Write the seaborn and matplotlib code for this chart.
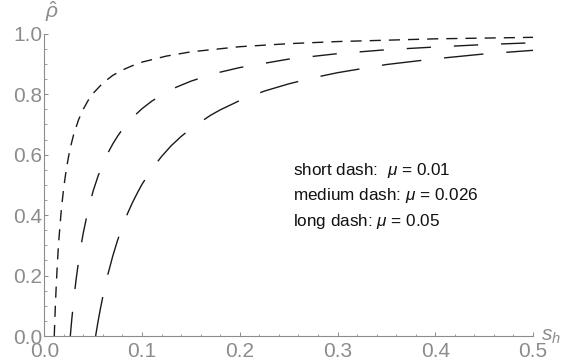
import numpy as np
import pandas as pd
import matplotlib
matplotlib.use("Agg")
import matplotlib.pyplot as plt
import seaborn as sns
from matplotlib.ticker import MultipleLocator, FormatStrFormatter

# ---- data ----
s_short = [0.0102, 0.0105, 0.011, 0.0115, 0.012, 0.013, 0.014, 0.015, 0.0175, 0.02, 0.0225,
           0.025, 0.0275, 0.03, 0.035, 0.04, 0.045, 0.05, 0.06, 0.07, 0.08, 0.09, 0.1,
           0.125, 0.15, 0.2, 0.25, 0.3, 0.4, 0.5]
rho_short = [0.0, 0.029, 0.073, 0.114, 0.151, 0.217, 0.274, 0.323, 0.421, 0.494, 0.551,
             0.597, 0.634, 0.666, 0.715, 0.751, 0.780, 0.803, 0.837, 0.862, 0.880, 0.894, 0.906,
             0.926, 0.940, 0.957, 0.967, 0.974, 0.983, 0.988]

s_medium = [0.0266, 0.028, 0.03, 0.0325, 0.035, 0.0375, 0.04, 0.045, 0.05, 0.055, 0.06,
            0.065, 0.07, 0.075, 0.08, 0.09, 0.1, 0.11, 0.12, 0.135, 0.15, 0.175, 0.2,
            0.25, 0.3, 0.35, 0.4, 0.45, 0.5]
rho_medium = [0.0, 0.051, 0.116, 0.186, 0.246, 0.298, 0.343, 0.419, 0.480, 0.529, 0.570,
              0.605, 0.635, 0.661, 0.684, 0.722, 0.752, 0.777, 0.797, 0.823, 0.843, 0.869, 0.888,
              0.916, 0.934, 0.947, 0.956, 0.964, 0.970]

s_long = [0.0525, 0.055, 0.0575, 0.06, 0.0625, 0.065, 0.07, 0.075, 0.08, 0.085, 0.09,
          0.095, 0.1, 0.11, 0.12, 0.13, 0.14, 0.15, 0.17, 0.18, 0.2, 0.225, 0.25, 0.275,
          0.3, 0.35, 0.4, 0.45, 0.5]
rho_long = [0.0, 0.048, 0.092, 0.132, 0.169, 0.203, 0.264, 0.317, 0.363, 0.404, 0.440,
            0.472, 0.502, 0.552, 0.594, 0.630, 0.660, 0.686, 0.730, 0.748, 0.779, 0.810, 0.834, 0.854,
            0.871, 0.898, 0.917, 0.933, 0.945]

curve_names = ["short", "medium", "long"]
annotations = ["short dash:$\\enspace\\,\\mu$ = 0.01", "medium dash: $\\mu$ = 0.026", "long dash: $\\mu$ = 0.05"]
x_ticks = [0.0, 0.1, 0.2, 0.3, 0.4, 0.5]
y_ticks = [0.0, 0.2, 0.4, 0.6, 0.8, 1.0]

df = pd.concat([
    pd.DataFrame({"s": s_short, "rho": rho_short, "curve": "short"}),
    pd.DataFrame({"s": s_medium, "rho": rho_medium, "curve": "medium"}),
    pd.DataFrame({"s": s_long, "rho": rho_long, "curve": "long"}),
], ignore_index=True)

plt.rcParams["font.family"] = ["Liberation Sans", "DejaVu Sans"]
plt.rcParams["mathtext.fontset"] = "custom"
plt.rcParams["mathtext.it"] = "Liberation Sans:italic"
plt.rcParams["mathtext.rm"] = "Liberation Sans"

W, H = 563, 362
fig = plt.figure(figsize=(W / 100, H / 100), dpi=100)
x0, x1 = 44.3, 533.0
y0, y1 = 336.0, 33.7
ax = fig.add_axes([x0 / W, (H - y0) / H, (x1 - x0) / W, (y0 - y1) / H])

gray = "#8c8c8c"
dashes = {"short": (8.0, 5.8), "medium": (17.5, 16.5), "long": (28.5, 16.5)}
sns.lineplot(data=df, x="s", y="rho", style="curve", style_order=curve_names,
             dashes=dashes, color="#1a1a1a", linewidth=1.0, legend=False,
             estimator=None, sort=False, ax=ax)

ax.set_xlim(0, 0.5)
ax.set_ylim(0, 1.0)
ax.set_xlabel("")
ax.set_ylabel("")
for side in ["top", "right"]:
    ax.spines[side].set_visible(False)
for side in ["left", "bottom"]:
    ax.spines[side].set_color(gray)
    ax.spines[side].set_linewidth(0.8)

ax.set_xticks(x_ticks)
ax.set_yticks(y_ticks)
ax.xaxis.set_major_formatter(FormatStrFormatter("%.1f"))
ax.yaxis.set_major_formatter(FormatStrFormatter("%.1f"))
ax.xaxis.set_minor_locator(MultipleLocator(0.02))
ax.yaxis.set_minor_locator(MultipleLocator(0.05))
ax.tick_params(which="major", direction="in", length=3.2, width=0.7, color=gray,
               labelcolor=gray, labelsize=15)
ax.tick_params(which="minor", direction="in", length=1.8, width=0.6, color=gray)
ax.tick_params(axis="y", which="major", pad=1.5)
ax.tick_params(axis="x", which="major", pad=4)
ax.patch.set_alpha(0)

# axis labels
ax.annotate("$\\hat{\\rho}$", xy=(0, 1.0), xycoords="data", xytext=(0.5, 7),
            textcoords="offset points", ha="left", va="bottom", fontsize=15, color=gray)
ax.annotate("$s_h$", xy=(0.5, 0.0), xycoords="data", xytext=(6, 0),
            textcoords="offset points", ha="left", va="center", fontsize=15, color=gray)

# annotation text
for i, t in enumerate(annotations):
    fig.text(293.3 / W, (H - (175 + 25.3 * i)) / H, t, ha="left", va="baseline",
             fontsize=12.3, color="#111111")

fig.savefig("out.png", dpi=100)
